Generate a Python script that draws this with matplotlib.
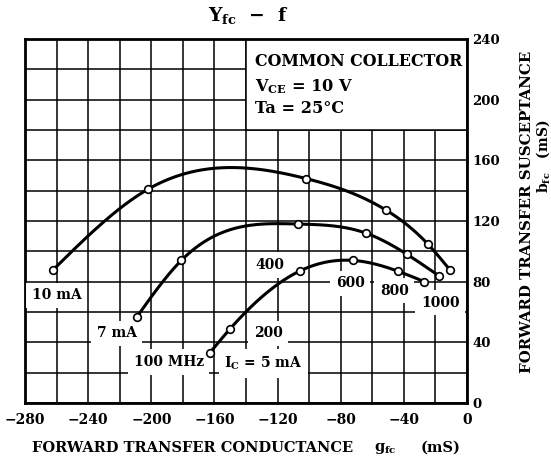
import numpy as np
import matplotlib
matplotlib.use('Agg')
import matplotlib.pyplot as plt
from matplotlib.patches import Rectangle

plt.rcParams['font.family'] = 'DejaVu Serif'
plt.rcParams['font.weight'] = 'bold'
plt.rcParams['mathtext.fontset'] = 'custom'
plt.rcParams['mathtext.rm'] = 'DejaVu Serif:bold'
plt.rcParams['mathtext.it'] = 'DejaVu Serif:bold'
plt.rcParams['mathtext.bf'] = 'DejaVu Serif:bold'

# data: g_fc (x) and b_fc (y), mS, at 100/200/400/600/800/1000 MHz
freqs = [100, 200, 400, 600, 800, 1000]
g_10mA = [-262, -202, -102, -51, -25, -11]
b_10mA = [88, 141, 148, 127, 105, 88]
g_7mA = [-209, -181, -107, -64, -38, -18]
b_7mA = [57, 94, 118, 112, 98, 84]
g_5mA = [-163, -150, -106, -72, -44, -27]
b_5mA = [33, 49, 87, 94, 87, 80]

xticks = [-280, -240, -200, -160, -120, -80, -40, 0]
yticks = [0, 40, 80, 120, 160, 200, 240]


def spline(x, y, n=300):
    # natural cubic spline, just for drawing a smooth curve through the points
    x = np.asarray(x, float)
    y = np.asarray(y, float)
    k = len(x)
    h = np.diff(x)
    A = np.zeros((k, k))
    r = np.zeros(k)
    A[0, 0] = A[-1, -1] = 1
    for i in range(1, k - 1):
        A[i, i - 1] = h[i - 1]
        A[i, i] = 2 * (h[i - 1] + h[i])
        A[i, i + 1] = h[i]
        r[i] = 3 * ((y[i + 1] - y[i]) / h[i] - (y[i] - y[i - 1]) / h[i - 1])
    c = np.linalg.solve(A, r)
    bb = (y[1:] - y[:-1]) / h - h * (2 * c[:-1] + c[1:]) / 3
    d = (c[1:] - c[:-1]) / (3 * h)
    xs = np.linspace(x[0], x[-1], n)
    j = np.clip(np.searchsorted(x, xs) - 1, 0, k - 2)
    dx = xs - x[j]
    return xs, y[j] + bb[j] * dx + c[j] * dx ** 2 + d[j] * dx ** 3


fig = plt.figure(figsize=(5.51, 4.65), dpi=100)
ax = fig.add_axes([25 / 551, 1 - 403 / 465, 442 / 551, 364 / 465])

ax.set_xlim(-280, 0)
ax.set_ylim(0, 240)
ax.set_axisbelow(True)
ax.set_xticks(xticks)
ax.set_xticks(np.arange(-260, 0, 40), minor=True)
ax.set_yticks(yticks)
ax.set_yticks(np.arange(20, 240, 40), minor=True)
ax.grid(True, which='both', color='black', lw=1.1)
ax.tick_params(which='both', length=0)
ax.tick_params(axis='x', labelsize=10, pad=7)
ax.tick_params(axis='y', labelsize=9.5, pad=4, left=False, labelleft=False,
               right=True, labelright=True)
ax.set_xticklabels(['\u2212' + str(-t) if t else '0' for t in xticks])
for s in ax.spines.values():
    s.set_linewidth(2)

# white condition box top right
ax.add_patch(Rectangle((-140, 180), 140, 60, facecolor='white',
                       edgecolor='black', lw=1.1, zorder=2))
ax.text(-134.5, 225, 'COMMON COLLECTOR', fontsize=11.4, va='center', zorder=3)
ax.text(-134.5, 208.5, r'V$_{\mathrm{CE}}$ = 10 V', fontsize=11.6, va='center', zorder=3)
ax.text(-134.5, 194.5, 'Ta = 25\u00b0C', fontsize=11.6, va='center', zorder=3)

for g, b in [(g_10mA, b_10mA), (g_7mA, b_7mA), (g_5mA, b_5mA)]:
    xs, ys = spline(g, b)
    ax.plot(xs, ys, color='black', lw=2.2, zorder=4)
    ax.plot(g, b, 'o', ms=5.5, mfc='white', mec='black', mew=1.2, zorder=5)

box = dict(facecolor='white', edgecolor='none', pad=4)
labels = [
    (-260, 71, '10 mA'), (-222, 46, '7 mA'), (-189, 27, '100 MHz'),
    (-129, 26, r'I$_{\mathrm{C}}$ = 5 mA'), (-126, 46, '200'), (-125, 91, '400'),
    (-74, 79, '600'), (-46, 74, '800'), (-17, 66, '1000'),
]
for x, y, s in labels:
    ax.text(x, y, s, fontsize=10, ha='center', va='center', bbox=box, zorder=3)

fig.text(248 / 551, 1 - 16 / 465, 'Y$_{\\mathrm{fc}}$  \u2212  f',
         fontsize=13.5, ha='center', va='center')
fig.text(32 / 551, 1 - 448 / 465, 'FORWARD TRANSFER CONDUCTANCE',
         fontsize=10.5, ha='left', va='center')
fig.text(374 / 551, 1 - 448 / 465, r'g$_{\mathrm{fc}}$', fontsize=10.5,
         ha='left', va='center')
fig.text(460 / 551, 1 - 448 / 465, '(mS)', fontsize=10.5, ha='right', va='center')
fig.text(527 / 551, 1 - 212 / 465, 'FORWARD TRANSFER SUSCEPTANCE', fontsize=10.8,
         rotation=90, ha='center', va='center')
fig.text(543 / 551, 1 - 156 / 465, r'b$_{\mathrm{fc}}$   (mS)', fontsize=10,
         rotation=90, ha='center', va='center')

fig.savefig('out.png', dpi=100)
